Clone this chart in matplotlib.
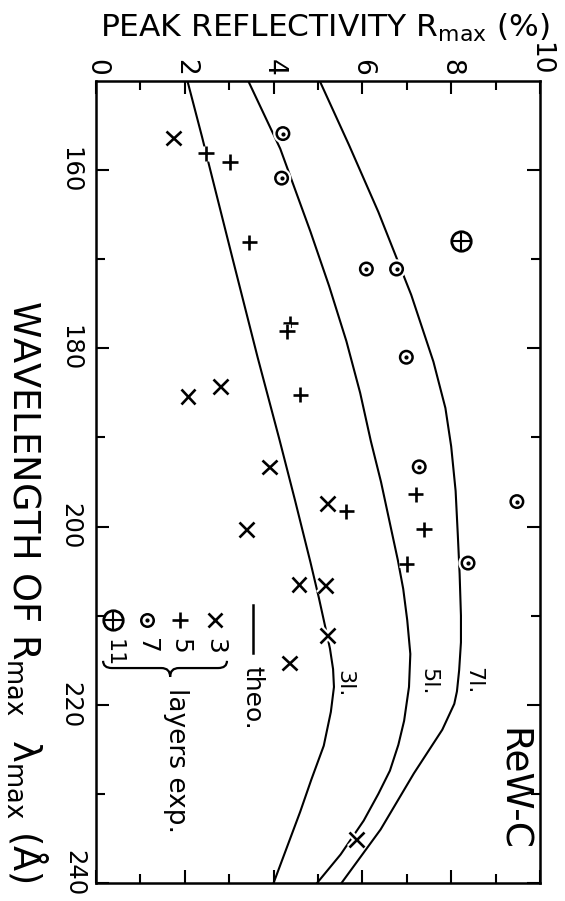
import matplotlib
matplotlib.use("Agg")
import matplotlib.pyplot as plt
import matplotlib.patheffects as pe
from matplotlib.path import Path
from matplotlib.patches import PathPatch
from matplotlib.ticker import FixedLocator

# theoretical curves: wavelength of Rmax (A) vs peak reflectivity (%)
lam_3l = [150, 156.3, 159.7, 170, 181, 190.2, 197, 204, 208, 211.4, 213.7, 216, 218,
          220.8, 224.6, 228.4, 232, 236, 240]
r_3l = [2.06, 2.39, 2.56, 3.08, 3.64, 4.13, 4.48, 4.83, 5.02, 5.17, 5.27, 5.34, 5.36,
        5.29, 5.13, 4.85, 4.60, 4.30, 4.00]

lam_5l = [150, 157.6, 162.8, 166.9, 173, 179.2, 185, 190.4, 195, 200.1, 203.8, 207,
          210.5, 214.3, 218, 221.8, 224.5, 227.4, 230, 233, 236.8, 240]
r_5l = [3.43, 4.15, 4.53, 4.83, 5.25, 5.64, 5.95, 6.19, 6.42, 6.64, 6.80, 6.92,
        7.01, 7.08, 7.05, 6.94, 6.81, 6.62, 6.36, 6.03, 5.51, 4.98]

lam_7l = [150, 157.2, 164.7, 174, 181.5, 186.7, 191, 196, 201, 205.3, 210, 213,
          216.1, 218.5, 219.9, 222.8, 227.7, 234, 240]
r_7l = [5.04, 5.70, 6.36, 7.10, 7.60, 7.87, 8.00, 8.10, 8.15, 8.19, 8.22, 8.22,
        8.18, 8.13, 8.07, 7.80, 7.16, 6.41, 5.53]

# experimental points
lam_x3 = [156.4, 184.3, 185.4, 193.3, 197.4, 200.3, 206.5, 206.6, 212.2, 215.3, 235.1]
r_x3 = [1.75, 2.80, 2.07, 3.91, 5.22, 3.39, 4.57, 5.17, 5.21, 4.36, 5.87]

lam_p5 = [158.1, 159.1, 168.1, 177.2, 178.1, 185.2, 196.4, 198.3, 200.3, 204.2]
r_p5 = [2.48, 3.02, 3.45, 4.38, 4.30, 4.60, 7.20, 5.64, 7.39, 7.00]

lam_o7 = [155.9, 160.9, 171.1, 171.1, 181.0, 193.3, 197.2, 204.1]
r_o7 = [4.21, 4.18, 6.09, 6.77, 6.99, 7.28, 9.48, 8.38]

lam_o11 = [168.0]
r_o11 = [8.22]

x_major = [0, 2, 4, 6, 8, 10]
x_minor = [1, 3, 5, 7, 9]
y_major = [160, 180, 200, 220, 240]
y_minor = [170, 190, 210, 230]

fig = plt.figure(figsize=(5.65, 9.01), dpi=100)
ax = fig.add_axes([0.1699, 0.0200, 0.7858, 0.8901])

k = "black"
halo = [pe.withStroke(linewidth=5, foreground="white")]
ax.plot(r_3l, lam_3l, color=k, lw=1.5)
ax.plot(r_5l, lam_5l, color=k, lw=1.5)
ax.plot(r_7l, lam_7l, color=k, lw=1.5)

ax.plot(r_x3, lam_x3, ls="none", marker="x", ms=10.5, mew=1.9, color=k, path_effects=halo)
ax.plot(r_p5, lam_p5, ls="none", marker="+", ms=11, mew=1.9, color=k, path_effects=halo)
ax.plot(r_o7, lam_o7, ls="none", marker="o", ms=9, mfc="none", mew=1.8, color=k,
        path_effects=halo)
ax.plot(r_o7, lam_o7, ls="none", marker="o", ms=2, color=k)
ax.plot(r_o11, lam_o11, ls="none", marker="o", ms=14, mfc="none", mew=2, color=k)
ax.plot(r_o11, lam_o11, ls="none", marker="+", ms=13, mew=1.5, color=k)

ax.set_xlim(0, 10)
ax.set_ylim(240, 150)
ax.xaxis.set_major_locator(FixedLocator(x_major))
ax.xaxis.set_minor_locator(FixedLocator(x_minor))
ax.yaxis.set_major_locator(FixedLocator(y_major))
ax.yaxis.set_minor_locator(FixedLocator(y_minor))
ax.set_xticklabels([str(v) for v in x_major])
# last label is drawn by hand so it stays inside the figure
ax.set_yticklabels([str(v) for v in y_major[:-1]] + [""])

ax.tick_params(which="both", direction="in", top=True, bottom=True, left=True, right=True,
               labeltop=True, labelbottom=False, width=1.5, color=k)
ax.tick_params(which="major", length=9.5)
ax.tick_params(which="minor", length=6.5)
ax.tick_params(axis="x", pad=4, labelsize=19)
ax.tick_params(axis="y", pad=10, labelsize=17.5)
plt.setp(ax.get_xticklabels(), rotation=-90, ha="center", va="bottom")
plt.setp(ax.get_yticklabels(), rotation=-90, ha="right", va="center")
ax.text(-0.0225, 238.9, str(y_major[-1]), transform=ax.get_yaxis_transform(),
        rotation=-90, ha="right", va="center", fontsize=17.5)
for s in ax.spines.values():
    s.set_linewidth(1.8)

# axis titles
fig.text(325 / 565, 1 - 37 / 901, r"PEAK REFLECTIVITY R$_{\mathrm{max}}$ (%)",
         ha="center", va="baseline", fontsize=22.5)
fig.text(27 / 565, 1 - 591 / 901,
         r"WAVELENGTH OF R$_{\mathrm{max}}$  λ$_{\mathrm{max}}$ (Å)",
         ha="center", va="center", rotation=-90, fontsize=26.5)

# curve labels
ax.text(0.559, 0.249, "3l.", transform=ax.transAxes, rotation=-90,
        ha="center", va="center", fontsize=16)
ax.text(0.748, 0.251, "5l.", transform=ax.transAxes, rotation=-90,
        ha="center", va="center", fontsize=16)
ax.text(0.849, 0.252, "7l.", transform=ax.transAxes, rotation=-90,
        ha="center", va="center", fontsize=16)
ax.text(0.937, 0.116, "ReW-C", transform=ax.transAxes, rotation=-90,
        ha="center", va="center", fontsize=27)

# legend (drawn by hand, rotated like the rest of the figure)
tr = ax.transAxes
ax.plot([0.354, 0.354], [0.347, 0.287], color=k, lw=1.8, transform=tr, clip_on=False)
ax.text(0.352, 0.270, "theo.", transform=tr, rotation=-90, ha="center", va="top",
        fontsize=18)
ax.plot([0.268], [0.328], marker="x", ms=10.5, mew=1.9, color=k, transform=tr)
ax.plot([0.189], [0.328], marker="+", ms=11, mew=1.9, color=k, transform=tr)
ax.plot([0.115], [0.328], marker="o", ms=9, mfc="none", mew=1.8, color=k, transform=tr)
ax.plot([0.115], [0.328], marker="o", ms=2, color=k, transform=tr)
ax.plot([0.038], [0.328], marker="o", ms=14, mfc="none", mew=2, color=k, transform=tr)
ax.plot([0.038], [0.328], marker="+", ms=13, mew=1.5, color=k, transform=tr)
for xf, yf, lab in [(0.268, 0.296, "3"), (0.189, 0.296, "5"), (0.115, 0.296, "7"),
                    (0.040, 0.287, "11")]:
    ax.text(xf, yf, lab, transform=tr, rotation=-90, ha="center", va="center",
            fontsize=18 if lab != "11" else 16)

# brace grouping the layer numbers
xa, xm, xb = 0.016, 0.167, 0.295
yt, yb, yc = 0.277, 0.268, 0.257
d = 0.02
verts = [(xa, yt), (xa, yb), (xa + d, yb), (xm - d, yb), (xm, yb), (xm, yc),
         (xm, yb), (xm + d, yb), (xb - d, yb), (xb, yb), (xb, yt)]
codes = [Path.MOVETO, Path.CURVE3, Path.CURVE3, Path.LINETO, Path.CURVE3, Path.CURVE3,
         Path.CURVE3, Path.CURVE3, Path.LINETO, Path.CURVE3, Path.CURVE3]
ax.add_patch(PathPatch(Path(verts, codes), fill=False, lw=1.6, ec=k, transform=tr,
                       clip_on=False))
ax.text(0.180, 0.243, "layers exp.", transform=tr, rotation=-90, ha="center", va="top",
        fontsize=19)

fig.savefig("out.png", dpi=100)
